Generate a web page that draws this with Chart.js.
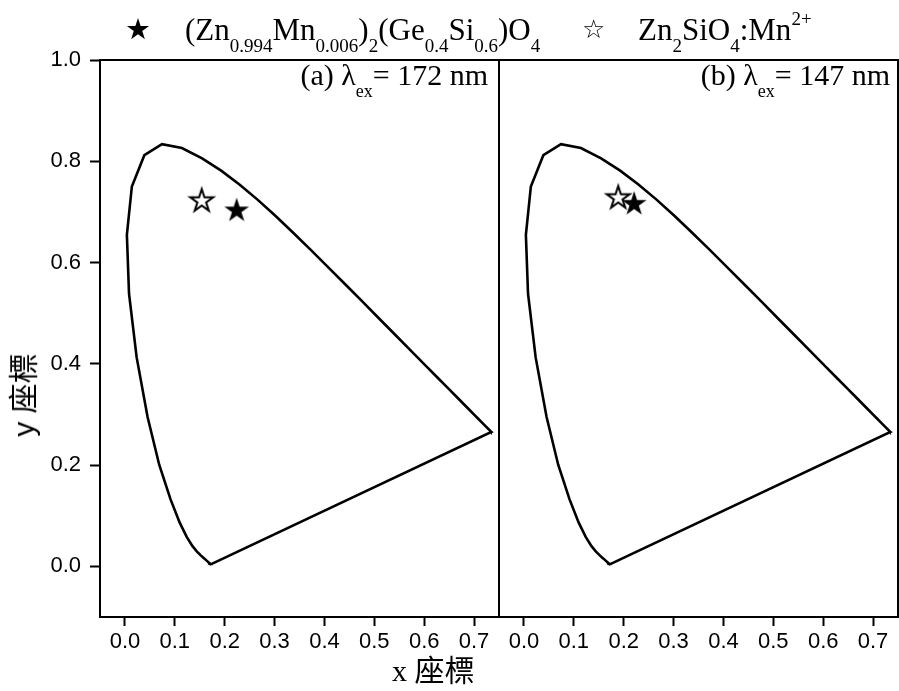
<!DOCTYPE html>
<html><head><meta charset="utf-8">
<script src="https://cdn.jsdelivr.net/npm/chart.js@4.4.1/dist/chart.umd.min.js"></script>
<style>
html,body{margin:0;padding:0;background:#fff;}
#wrap{position:relative;width:899px;height:691px;overflow:hidden;background:#fff;}
canvas{position:absolute;left:0;top:0;}
.t{position:absolute;white-space:nowrap;color:#000;}
.serif{font-family:'Liberation Serif','Times New Roman',serif;}
.lg sub{font-size:19px;position:relative;top:12px;vertical-align:baseline;line-height:0;}
.lg sup{font-size:19px;position:relative;top:-15px;vertical-align:baseline;line-height:0;}
.pl sub{font-size:18px;position:relative;top:12px;vertical-align:baseline;line-height:0;}
</style></head><body>
<div id="wrap">
<canvas id="c1" width="899" height="691" style="width:899px;height:691px"></canvas>
<canvas id="c2" width="899" height="691" style="width:899px;height:691px"></canvas>

<div class="t" style="left:125px;top:15px;font-family:'DejaVu Sans';font-size:29px;line-height:29px;">★</div>
<div class="t serif lg" style="left:185px;top:15px;font-size:31px;line-height:30px;">(Zn<sub>0.994</sub>Mn<sub>0.006</sub>)<sub>2</sub>(Ge<sub>0.4</sub>Si<sub>0.6</sub>)O<sub>4</sub></div>
<div class="t" style="left:582px;top:16px;font-family:'DejaVu Sans';font-size:26px;line-height:26px;">☆</div>
<div class="t serif lg" style="left:638px;top:15px;font-size:31px;line-height:30px;">Zn<sub>2</sub>SiO<sub>4</sub>:Mn<sup>2+</sup></div>

<div class="t serif pl" style="right:411px;top:60px;font-size:30px;line-height:30px;">(a) λ<sub>ex</sub>= 172 nm</div>
<div class="t serif pl" style="right:9px;top:60px;font-size:30px;line-height:30px;">(b) λ<sub>ex</sub>= 147 nm</div>

<div class="t" style="left:24px;top:395px;font-family:'Liberation Sans','Noto Sans CJK TC',sans-serif;font-size:30px;line-height:30px;transform:translate(-50%,-50%) rotate(-90deg);">y 座標</div>
<div class="t" style="left:392px;top:656px;font-family:'Liberation Serif','Noto Sans CJK TC',serif;font-size:30px;line-height:30px;">x 座標</div>
</div>
<script>
// CIE 1931 spectral locus (380 nm ... 700 nm) closed by the purple line
const locusX = [0.1741,0.1740,0.1738,0.1736,0.1733,0.1730,0.1726,0.1721,0.1714,0.1703,0.1689,0.1669,0.1644,0.1611,0.1566,0.1510,0.1440,0.1355,0.1241,0.1096,0.0913,0.0687,0.0454,0.0235,0.0082,0.0039,0.0139,0.0389,0.0743,0.1142,0.1547,0.1929,0.2296,0.2658,0.3016,0.3373,0.3731,0.4087,0.4441,0.4788,0.5125,0.5448,0.5752,0.6029,0.6270,0.6482,0.6658,0.6801,0.6915,0.7006,0.7079,0.7140,0.7190,0.7230,0.7260,0.7283,0.7300,0.7311,0.7320,0.7327,0.7334,0.7347,0.1741];
const locusY = [0.0050,0.0050,0.0049,0.0049,0.0048,0.0048,0.0048,0.0048,0.0051,0.0058,0.0069,0.0086,0.0109,0.0138,0.0177,0.0227,0.0297,0.0399,0.0578,0.0868,0.1327,0.2007,0.2950,0.4127,0.5384,0.6548,0.7502,0.8120,0.8338,0.8262,0.8059,0.7816,0.7543,0.7243,0.6923,0.6589,0.6245,0.5896,0.5547,0.5202,0.4866,0.4544,0.4242,0.3965,0.3725,0.3514,0.3340,0.3197,0.3083,0.2993,0.2920,0.2859,0.2809,0.2770,0.2740,0.2717,0.2700,0.2689,0.2680,0.2673,0.2666,0.2653,0.0050];

// panel (a) lambda_ex = 172 nm
const aGeSiX = [0.224], aGeSiY = [0.705];
const aZnSiX = [0.154], aZnSiY = [0.724];
// panel (b) lambda_ex = 147 nm
const bGeSiX = [0.221], bGeSiY = [0.718];
const bZnSiX = [0.189], bZnSiY = [0.730];

const xTicks = [0.0,0.1,0.2,0.3,0.4,0.5,0.6,0.7];
const yTicks = [0.0,0.2,0.4,0.6,0.8,1.0];
const xRange = [-0.05, 0.75];
const yRange = [-0.1, 1.0];

function pts(xs, ys){ return xs.map((x,i)=>({x:x, y:ys[i]})); }

function makeStar(fill, stroke){
  const c=document.createElement('canvas'); c.width=32; c.height=32;
  const g=c.getContext('2d');
  const R = stroke ? 12 : 13, r = R*0.382, cx=16, cy=17.2;
  g.beginPath();
  for(let i=0;i<10;i++){
    const a=-Math.PI/2+i*Math.PI/5, rr=(i%2)?r:R;
    g.lineTo(cx+rr*Math.cos(a), cy+rr*Math.sin(a));
  }
  g.closePath();
  g.fillStyle=fill; g.fill();
  if(stroke){ g.lineWidth=2; g.lineJoin='miter'; g.strokeStyle=stroke; g.stroke(); }
  return c;
}
const filledStar = makeStar('#000', null);
const openStar = makeStar('#fff', '#000');

const framePlugin = {
  id:'frame',
  afterDraw(chart){
    const a=chart.chartArea, g=chart.ctx;
    g.save(); g.strokeStyle='#000'; g.lineWidth=2;
    g.strokeRect(a.left, a.top, a.right-a.left, a.bottom-a.top);
    g.restore();
  }
};

const tickFont = {family:"'Liberation Sans', Arial, sans-serif", size:22};

function makeChart(id, gx, gy, zx, zy, left, right, showY){
  return new Chart(document.getElementById(id), {
    type:'scatter',
    data:{datasets:[
      {data:pts(locusX, locusY), showLine:true, borderColor:'#000', borderWidth:2.6, pointRadius:0, tension:0, fill:false, order:3},
      {data:pts(zx, zy), pointStyle:openStar, pointRadius:10, order:2},
      {data:pts(gx, gy), pointStyle:filledStar, pointRadius:10, order:1}
    ]},
    options:{
      responsive:false, animation:false, devicePixelRatio:1,
      layout:{autoPadding:false, padding:{left:left, right:right, top:60, bottom:0}},
      plugins:{legend:{display:false}, tooltip:{enabled:false}},
      scales:{
        x:{type:'linear', min:xRange[0], max:xRange[1],
           afterBuildTicks:(s)=>{ s.ticks = xTicks.map(v=>({value:v})); },
           afterFit:(s)=>{ s.height = 74; s.paddingLeft = 0; s.paddingRight = 0; },
           ticks:{autoSkip:false, maxRotation:0, color:'#000', font:tickFont, padding:3, callback:(v)=>Number(v).toFixed(1)},
           grid:{drawOnChartArea:false, drawTicks:true, tickLength:9, tickWidth:2, tickColor:'#000'},
           border:{display:false}},
        y:{type:'linear', min:yRange[0], max:yRange[1], display:showY,
           afterBuildTicks:(s)=>{ s.ticks = yTicks.map(v=>({value:v})); },
           afterFit:(s)=>{ s.width = showY ? 100 : 0; s.paddingTop = 0; s.paddingBottom = 0; },
           ticks:{autoSkip:false, color:'#000', font:tickFont, padding:9, callback:(v)=>Number(v).toFixed(1)},
           grid:{drawOnChartArea:false, drawTicks:true, tickLength:10, tickWidth:2, tickColor:'#000'},
           border:{display:false}}
      }
    },
    plugins:[framePlugin]
  });
}

makeChart('c1', aGeSiX, aGeSiY, aZnSiX, aZnSiY, 0, 400, true);
makeChart('c2', bGeSiX, bGeSiY, bZnSiX, bZnSiY, 499, 1, false);
</script>
</body></html>
